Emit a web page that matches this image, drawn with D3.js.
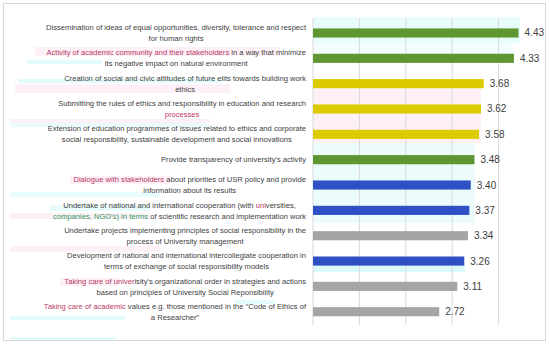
<!DOCTYPE html>
<html>
<head>
<meta charset="utf-8">
<script src="https://cdn.jsdelivr.net/npm/d3@7"></script>
<style>
  body { margin: 0; background: #fff; }
  svg { display: block; }
</style>
</head>
<body>
<svg id="chart" width="550" height="346"></svg>
<script>
// labels: one string per wrapped line, *red* and _green_ marks the coloured bits
var categories = [
  ["Dissemination of ideas of equal opportunities, diversity, tolerance and respect", "for human rights"],
  ["*Activity of academic community and their stakeholders* in a way that minimize", "its negative impact on natural environment"],
  ["Creation of social and civic attitudes of future elits towards building work", "ethics"],
  ["Submitting the rules of ethics and responsibility in education and research", "*processes*"],
  ["Extension of education programmes of issues related to ethics and corporate", "social responsibility, sustainable development and social innovations"],
  ["Provide transparency of university's activity"],
  ["*Dialogue with stakeholders* about priorities of USR policy and provide", "information about its results"],
  ["Undertake of national and international cooperation (with *uni*versities,", "_companies, NGO's) in terms_ of scientific research and implementation work"],
  ["Undertake projects implementing principles of social responsibility in the", "process of University management"],
  ["Development of national and international intercollegiate cooperation in", "terms of exchange of social responsibility models"],
  ["*Taking care of univer*isity's organizational order in strategies and actions", "based on principles of University Social Reponsibility"],
  ["*Taking care of academic* values e.g. those mentioned in the \u201cCode of Ethics of", "a Researcher\u201d"]
];
var values = [4.43, 4.33, 3.68, 3.62, 3.58, 3.48, 3.40, 3.37, 3.34, 3.26, 3.11, 2.72];
var groups = ["green", "green", "yellow", "yellow", "yellow", "green", "blue", "blue", "grey", "blue", "grey", "grey"];
var gridTicks = [0, 1, 2, 3, 4];

var colors = {green: "#5e9732", yellow: "#dccb00", blue: "#2e50c4", grey: "#a5a5a5"};
var textColor = "#404040";
var fontFam = "'Liberation Sans Narrow', 'Liberation Sans', Arial, sans-serif";

var svg = d3.select("#chart");

// outer frame
svg.append("rect")
  .attr("x", 3.5).attr("y", 3.5)
  .attr("width", 542).attr("height", 337)
  .attr("fill", "#fff")
  .attr("stroke", "#d9d9d9");

// faint cyan / pink smears seen on the scanned original
var smears = [
  [313, 17, 207, 26, "#e9fcfc"], [313, 43, 200, 12, "#f3fdfd"],
  [313, 88, 168, 55, "#fdf0f7"], [313, 143, 162, 80, "#ecfcfc"],
  [313, 263, 152, 9, "#dcfafa"],
  [35, 47, 245, 9, "#fdf0f7"], [27, 60, 75, 4, "#e3fbfb"],
  [18, 79, 205, 4, "#e3fbfb"], [15, 84, 215, 9, "#fdf0f7"],
  [10, 119, 200, 5, "#fdf0f7"], [10, 123, 200, 4, "#e9fcfc"],
  [70, 176, 100, 8, "#fdf0f7"], [10, 192, 150, 5, "#e9fcfc"],
  [50, 205, 100, 6, "#e9fcfc"], [10, 213, 140, 6, "#fdf0f7"],
  [10, 246, 150, 6, "#fdf0f7"], [60, 278, 60, 8, "#fdf0f7"],
  [10, 316, 115, 4, "#e3fbfb"], [10, 337, 105, 3, "#e3fbfb"],
  [235, 300, 40, 4, "#e3fbfb"]
];
svg.append("g")
  .selectAll("rect")
  .data(smears)
  .join("rect")
    .attr("x", function (d) { return d[0]; })
    .attr("y", function (d) { return d[1]; })
    .attr("width", function (d) { return d[2]; })
    .attr("height", function (d) { return d[3]; })
    .attr("fill", function (d) { return d[4]; });

var x = d3.scaleLinear().domain([0, 5]).range([313, 545]);
var y = d3.scaleBand()
  .domain(d3.range(values.length))
  .range([20.3, 324.4])
  .paddingInner(0.64)
  .paddingOuter(0.32);

// gridlines
svg.append("g")
  .selectAll("line")
  .data(gridTicks)
  .join("line")
    .attr("x1", function (d) { return x(d); })
    .attr("x2", function (d) { return x(d); })
    .attr("y1", 18)
    .attr("y2", 325)
    .attr("stroke", "#d9d9d9")
    .attr("stroke-width", 1);

// bars
svg.append("g")
  .selectAll("rect")
  .data(values)
  .join("rect")
    .attr("x", x(0))
    .attr("y", function (d, i) { return y(i); })
    .attr("width", function (d) { return x(d) - x(0); })
    .attr("height", y.bandwidth())
    .attr("fill", function (d, i) { return colors[groups[i]]; });

// value labels
svg.append("g")
  .selectAll("text")
  .data(values)
  .join("text")
    .attr("x", function (d) { return x(d) + 6; })
    .attr("y", function (d, i) { return y(i) + y.bandwidth() / 2; })
    .attr("dy", "0.35em")
    .attr("font-family", fontFam)
    .attr("font-size", 10)
    .attr("fill", textColor)
    .text(function (d) { return d.toFixed(2); });

// category labels, lines centred inside a right-aligned block
function segments(line) {
  var out = [];
  var re = /(\*[^*]+\*|_[^_]+_)/g;
  var last = 0, m;
  while ((m = re.exec(line)) !== null) {
    if (m.index > last) out.push({t: line.slice(last, m.index), c: textColor});
    var tok = m[0];
    out.push({t: tok.slice(1, -1), c: tok[0] == "*" ? "#b8385f" : "#2f9a5c"});
    last = m.index + tok.length;
  }
  if (last < line.length) out.push({t: line.slice(last), c: textColor});
  return out;
}

var labelRight = 306;
var lineH = 11;
var labels = svg.append("g");

categories.forEach(function (lines, i) {
  var cy = y(i) + y.bandwidth() / 2;
  var g = labels.append("g");
  var texts = lines.map(function (line, k) {
    var t = g.append("text")
      .attr("y", cy + (k - (lines.length - 1) / 2) * lineH)
      .attr("dy", "0.35em")
      .attr("text-anchor", "middle")
      .attr("font-family", fontFam)
      .attr("font-size", 7.6);
    t.selectAll("tspan")
      .data(segments(line))
      .join("tspan")
        .attr("fill", function (s) { return s.c; })
        .text(function (s) { return s.t; });
    return t;
  });
  var maxW = d3.max(texts, function (t) { return t.node().getComputedTextLength(); });
  texts.forEach(function (t) { t.attr("x", labelRight - maxW / 2); });
});
</script>
</body>
</html>
